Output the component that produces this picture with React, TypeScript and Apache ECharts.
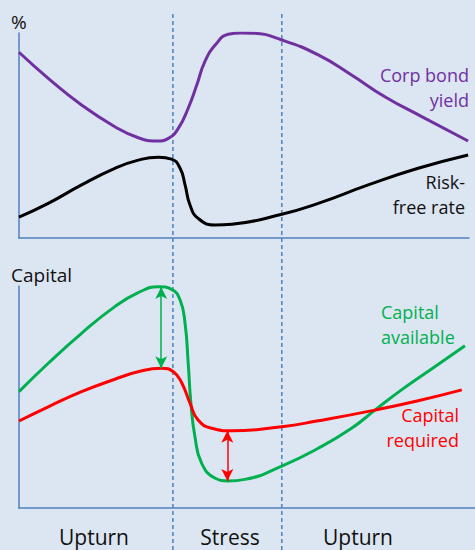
import React, { useEffect, useRef } from "react";
import * as echarts from "echarts";

// Top panel (%), x = time units 0..100, y = level 0..100
const corpBondYield: [number, number][] = [
  [0, 90.6], [6.5, 77.9], [13.9, 64.9], [21.3, 54.3], [26.5, 48.9], [30.6, 47.3],
  [33.2, 48.6], [35.4, 53.5], [37.6, 63.3], [39.5, 74.6], [41.3, 86], [43.6, 94.1],
  [46.5, 99.4], [49.5, 100], [52, 99.9], [58.4, 96.6], [66.5, 89.3], [73.9, 79.5],
  [81.3, 68.9], [89.5, 59.2], [99.8, 47.3],
];
const riskFreeRate: [number, number][] = [
  [0, 10.2], [6.5, 16.9], [13.9, 25.9], [21.3, 34], [26.5, 38], [31, 39.4],
  [33.9, 38.5], [35.8, 34], [36.9, 25.9], [38, 16.1], [39.8, 9.6], [43.6, 6.3],
  [47.3, 6.7], [58.4, 11.6], [66.5, 16.9], [77.6, 25.9], [88.7, 34], [99.8, 40.5],
];

// Bottom panel (Capital)
const capitalAvailable: [number, number][] = [
  [0, 52.4], [6.5, 65.2], [13.9, 78.7], [21.3, 90.7], [26.5, 97], [31, 99.7],
  [33.9, 98.5], [35.8, 93.7], [36.9, 83.2], [37.6, 65.2], [38.2, 47.2], [39.1, 32.1],
  [40.6, 20.1], [43.6, 13.4], [46.5, 12.2], [50.2, 12.9], [58.4, 18.9], [66.5, 26.9],
  [73.9, 35.9], [79.1, 44.1], [85, 53.2], [92.4, 63.6], [99.1, 73.1],
];
const capitalRequired: [number, number][] = [
  [0, 39.2], [6.5, 45.6], [13.9, 52.4], [21.3, 58], [27.3, 61.8], [31.7, 62.9],
  [34.3, 61.4], [36.2, 56.2], [38, 47.2], [39.8, 39.6], [42.8, 35.9], [47.3, 34.8],
  [58.4, 36.6], [66.5, 39.3], [79.1, 44.1], [88.7, 48.3], [98.4, 53.2],
];

// Gap arrows [x, from, to]
const surplusArrow: [number, number, number] = [31.6, 99.6, 63];
const shortfallArrow: [number, number, number] = [46.3, 34.8, 12.2];

const phaseBoundaries = [34.2, 58.4];
const phaseLabels = ["Upturn", "Stress", "Upturn"];

const FONT = "'Open Sans', 'Noto Sans', sans-serif";
const AXIS = "#4f81bd";
const PURPLE = "#7030a0";
const GREEN = "#00b050";
const RED = "#ff0000";

export default function App() {
  const ref = useRef<HTMLDivElement>(null);
  useEffect(() => {
    document.body.style.margin = "0";
    const chart = echarts.init(ref.current!, null, { renderer: "svg" });
    const axisCommon = {
      type: "value" as const,
      axisLine: { show: true, lineStyle: { color: AXIS, width: 1.5 } },
      axisTick: { show: false },
      axisLabel: { show: false },
      splitLine: { show: false },
    };
    const lineCommon = {
      type: "line" as const,
      smooth: 0.5,
      showSymbol: false,
      symbol: "none",
    };
    chart.setOption({
      animation: false,
      backgroundColor: "#dce6f2",
      grid: [
        { left: 19, top: 33, width: 450, height: 205 },
        { left: 19, top: 286, width: 456, height: 222 },
      ],
      xAxis: [
        { ...axisCommon, gridIndex: 0, min: 0, max: 100 },
        { ...axisCommon, gridIndex: 1, min: 0, max: 456 / 4.5 },
      ],
      yAxis: [
        { ...axisCommon, gridIndex: 0, min: 0, max: 100 },
        { ...axisCommon, gridIndex: 1, min: 0, max: 100 },
      ],
      series: [
        { ...lineCommon, name: "Corp bond yield", xAxisIndex: 0, yAxisIndex: 0, data: corpBondYield, lineStyle: { color: PURPLE, width: 3 } },
        { ...lineCommon, name: "Risk-free rate", xAxisIndex: 0, yAxisIndex: 0, data: riskFreeRate, lineStyle: { color: "#000", width: 3 } },
        {
          ...lineCommon, name: "Capital available", xAxisIndex: 1, yAxisIndex: 1, data: capitalAvailable,
          lineStyle: { color: GREEN, width: 3 },
          markLine: {
            silent: true, symbol: ["arrow", "arrow"], symbolSize: [9, 12],
            label: { show: false },
            lineStyle: { color: GREEN, width: 1.5, type: "solid" },
            data: [[{ coord: [surplusArrow[0], surplusArrow[1]] }, { coord: [surplusArrow[0], surplusArrow[2]] }]],
          },
        },
        {
          ...lineCommon, name: "Capital required", xAxisIndex: 1, yAxisIndex: 1, data: capitalRequired,
          lineStyle: { color: RED, width: 3 },
          markLine: {
            silent: true, symbol: ["arrow", "arrow"], symbolSize: [9, 12],
            label: { show: false },
            lineStyle: { color: RED, width: 1.5, type: "solid" },
            data: [[{ coord: [shortfallArrow[0], shortfallArrow[1]] }, { coord: [shortfallArrow[0], shortfallArrow[2]] }]],
          },
        },
      ],
    });

    const bx = phaseBoundaries.map((t) => chart.convertToPixel({ xAxisIndex: 0 }, t) as number);
    const txt = (x: number, y: number, text: string, fill: string, align: string, size = 18) => ({
      type: "text", x, y,
      style: { text, fill, font: `${size}px ${FONT}`, align, verticalAlign: "middle", lineHeight: size + 2 },
      z: 10,
    });
    chart.setOption({
      graphic: [
        ...bx.map((x) => ({
          type: "line", shape: { x1: x, y1: 14, x2: x, y2: 550 },
          style: { stroke: AXIS, lineWidth: 1.5, lineDash: [4, 3] }, z: 1,
        })),
        txt(11, 22, "%", "#111", "left", 19),
        txt(11, 275, "Capital", "#111", "left", 19),
        txt(469, 75, "Corp bond", PURPLE, "right"),
        txt(469, 100, "yield", PURPLE, "right"),
        txt(465, 182, "Risk-", "#111", "right"),
        txt(465, 207, "free rate", "#111", "right"),
        txt(381, 312, "Capital", GREEN, "left"),
        txt(381, 337, "available", GREEN, "left"),
        txt(459, 415, "Capital", RED, "right"),
        txt(459, 440, "required", RED, "right"),
        txt(94, 537, phaseLabels[0], "#111", "center", 21),
        txt(230, 537, phaseLabels[1], "#111", "center", 21),
        txt(358, 537, phaseLabels[2], "#111", "center", 21),
      ],
    });
    return () => chart.dispose();
  }, []);
  return <div ref={ref} style={{ position: "fixed", left: 0, top: 0, width: 475, height: 550 }} />;
}
